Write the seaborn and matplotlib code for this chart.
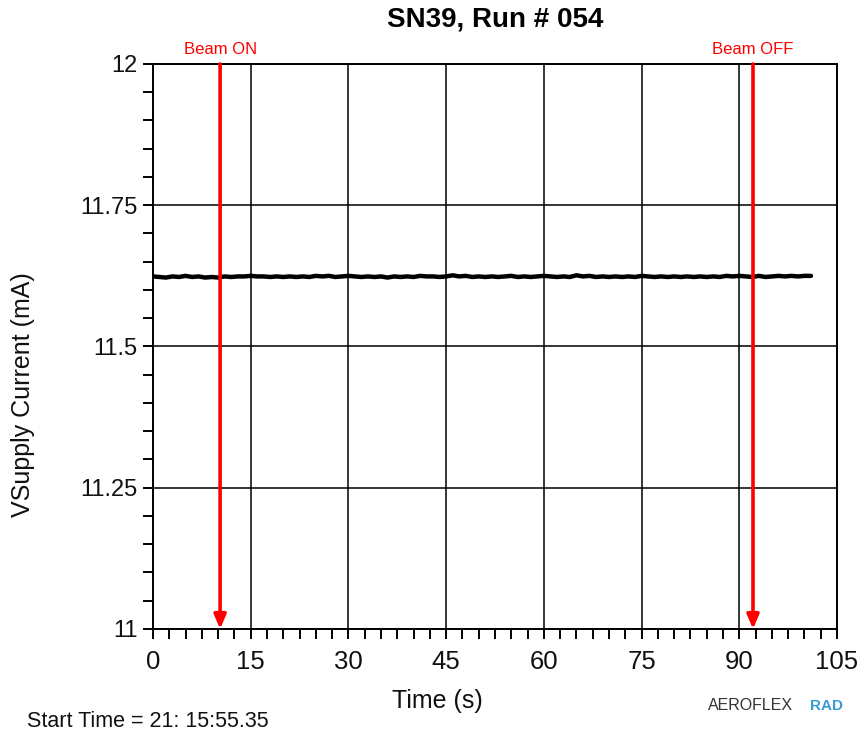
import numpy as np
import pandas as pd
import matplotlib
matplotlib.use("Agg")
import matplotlib.pyplot as plt
from matplotlib.ticker import MultipleLocator
import seaborn as sns

# Supply current samples, one per second
time_s = list(range(0, 102))
current_ma = [
    11.624, 11.623, 11.622, 11.624, 11.623, 11.625, 11.623, 11.624, 11.622, 11.623,
    11.622, 11.624, 11.623, 11.624, 11.624, 11.625, 11.624, 11.624, 11.623, 11.624,
    11.623, 11.624, 11.623, 11.624, 11.623, 11.625, 11.624, 11.625, 11.623, 11.624,
    11.625, 11.624, 11.623, 11.624, 11.623, 11.624, 11.622, 11.624, 11.623, 11.624,
    11.623, 11.625, 11.624, 11.624, 11.623, 11.624, 11.626, 11.624, 11.625, 11.623,
    11.624, 11.623, 11.624, 11.623, 11.624, 11.625, 11.623, 11.624, 11.623, 11.624,
    11.625, 11.624, 11.623, 11.624, 11.623, 11.626, 11.624, 11.625, 11.623, 11.624,
    11.623, 11.624, 11.623, 11.624, 11.623, 11.625, 11.624, 11.623, 11.624, 11.623,
    11.624, 11.623, 11.624, 11.623, 11.624, 11.623, 11.624, 11.623, 11.625, 11.624,
    11.625, 11.624, 11.623, 11.625, 11.623, 11.624, 11.625, 11.624, 11.625, 11.624,
    11.625, 11.625,
]

# Beam event markers
event_labels = ["Beam ON", "Beam OFF"]
event_times = [10.3, 92.1]

x_ticks = [0, 15, 30, 45, 60, 75, 90, 105]
y_ticks = [11, 11.25, 11.5, 11.75, 12]
y_tick_labels = ["11", "11.25", "11.5", "11.75", "12"]

title = "SN39, Run # 054"
start_time = "Start Time = 21: 15:55.35"

sns.set_theme(style="ticks")
plt.rcParams["font.family"] = ["Liberation Sans", "DejaVu Sans"]

fig = plt.figure(figsize=(8.6, 7.33), dpi=100)
ax = fig.add_axes([0.1779, 0.1419, 0.7954, 0.7708])

df = pd.DataFrame({"t": time_s, "i": current_ma})
sns.lineplot(data=df, x="t", y="i", ax=ax, color="black", linewidth=3.2,
             zorder=3, legend=False)

ax.set_xlim(0, 105)
ax.set_ylim(11, 12)
ax.set_xticks(x_ticks)
ax.set_yticks(y_ticks)
ax.set_yticklabels(y_tick_labels)
ax.xaxis.set_minor_locator(MultipleLocator(2.5))
ax.yaxis.set_minor_locator(MultipleLocator(0.05))

ax.grid(True, which="major", color="black", linewidth=1.1)
ax.set_axisbelow(True)
for sp in ax.spines.values():
    sp.set_visible(True)
    sp.set_color("black")
    sp.set_linewidth(1.4)

ax.tick_params(axis="both", which="major", direction="out", length=7, width=1.4,
               color="black", labelcolor="#111111")
ax.tick_params(axis="both", which="minor", direction="out", length=7, width=1.4,
               color="black")
ax.tick_params(axis="x", which="major", pad=8, labelsize=18.5)
ax.tick_params(axis="y", which="major", pad=4, labelsize=17)

# Axis titles placed in figure coordinates
ax.set_xlabel("")
ax.set_ylabel("")
fig.text(0.509, 0.034, "Time (s)", fontsize=18, color="#111111",
         ha="center", va="baseline")
fig.text(0.027, 0.462, "VSupply Current (mA)", fontsize=18, color="#111111",
         rotation=90, ha="center", va="center")
ax.set_title(title, fontsize=20, fontweight="bold", color="black", pad=27)

# Beam ON / OFF arrows running from the top of the plot to the bottom
for lbl, t in zip(event_labels, event_times):
    ax.annotate("", xy=(t, 11.0), xytext=(t, 12.0),
                arrowprops=dict(arrowstyle="-|>,head_length=0.7,head_width=0.3",
                                color="#ff0000", lw=2.6, shrinkA=0, shrinkB=0),
                zorder=4, annotation_clip=False)
    ax.text(t, 12.012, lbl, color="#ff0000", fontsize=12, ha="center", va="bottom")

fig.text(0.031, 0.008, start_time, fontsize=15.5, color="#111111", ha="left",
         va="baseline")
fig.text(0.823, 0.027, "AEROFLEX", fontsize=11.5, color="#333333", ha="left",
         va="bottom", fontstretch="condensed")
fig.text(0.942, 0.027, "RAD", fontsize=11, color="#3a9bd0", fontweight="bold",
         ha="left", va="bottom")

fig.savefig("out.png", dpi=100, facecolor="white")
